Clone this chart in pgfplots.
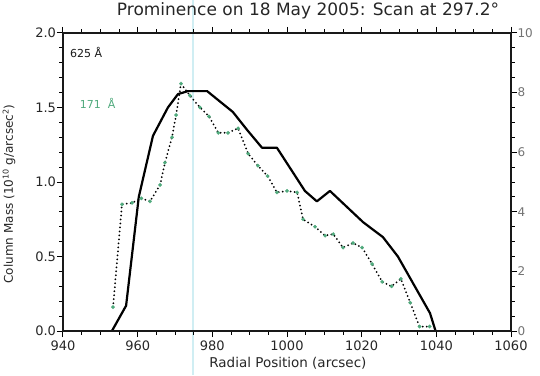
\documentclass[border=0pt]{standalone}
\usepackage{fontspec}
\setmainfont{DejaVu Sans}
\usepackage{pgfplots}
\pgfplotsset{compat=1.18}
\definecolor{grn}{RGB}{80,170,125}
\definecolor{art}{RGB}{208,238,243}
\begin{document}
\begin{tikzpicture}
\path[use as bounding box] (-63pt,-44pt) rectangle (477pt,331pt);
\draw[art, line width=2.5pt] (130pt,-44pt) -- (130pt,331pt);
\begin{axis}[
  scale only axis, width=448pt, height=298pt,
  xmin=940, xmax=1060, ymin=0, ymax=2,
  xtick={940,960,...,1060}, minor x tick num=3,
  ytick={0,0.5,...,2}, minor y tick num=4,
  ytick pos=left,
  tick align=outside,
  major tick length=6pt, minor tick length=3.5pt,
  tick style={black, line width=1pt},
  axis line style={line width=1.3pt, black!90},
  /pgf/number format/assume math mode=true,
  ticklabel style={font=\fontsize{13}{13}\selectfont, text=black!85},
  xticklabel style={/pgf/number format/1000 sep={}, yshift=0pt},
  yticklabel style={/pgf/number format/fixed, /pgf/number format/fixed zerofill, /pgf/number format/precision=1, xshift=2.5pt},
  title={Prominence on 18 May 2005: Scan at 297.2°},
  title style={font=\fontsize{17}{17}\selectfont, text=black!85, at={(axis description cs:0.547,1)}, anchor=base, yshift=11pt},
  xlabel={Radial Position (arcsec)},
  xlabel style={font=\fontsize{13.5}{13.5}\selectfont, text=black!85, at={(axis description cs:0.502,-0.107)}, anchor=center},
  ylabel={Column Mass (10\textsuperscript{10} g/arcsec\textsuperscript{2})},
  ylabel style={font=\fontsize{12}{12}\selectfont, text=black!85, at={(axis description cs:-0.1205,0.46)}, anchor=center},
]
\addplot[black, line width=2.2pt, line join=round] coordinates {
(953.1,0) (956.9,0.17) (960.3,0.90) (964.1,1.31) (968.1,1.50) (970.8,1.59)
(973.5,1.61) (978.6,1.61) (985.5,1.47) (989.3,1.35) (993.3,1.23) (997.3,1.23)
(1004.8,0.94) (1008.0,0.87) (1011.5,0.94) (1020.4,0.73) (1025.7,0.63)
(1029.7,0.50) (1038.3,0.12) (1039.8,0)
};
\node[anchor=west, font=\fontsize{11}{11}\selectfont, text=black!90] at (axis description cs:0.008,0.936) {625 Å};
\node[anchor=west, font=\fontsize{11}{11}\selectfont, text=grn] at (axis description cs:0.030,0.765) {171\hspace{7pt}Å};
\end{axis}
\begin{axis}[
  scale only axis, width=448pt, height=298pt,
  xmin=940, xmax=1060, ymin=0, ymax=10,
  xtick=\empty,
  ytick pos=right, yticklabel pos=right,
  ytick={0,2,...,10}, minor y tick num=3,
  tick align=outside,
  major tick length=6pt, minor tick length=3.5pt,
  axis line style={line width=1.3pt, black!90},
  tick style={black, line width=1pt},
  /pgf/number format/assume math mode=true,
  ticklabel style={font=\fontsize{12}{12}\selectfont, text=black!55},
  yticklabel style={xshift=-3pt},
]
\addplot[black, line width=2pt, line cap=round, dash pattern=on 0pt off 4pt,
  mark=*, mark size=1.8pt, mark options={solid, draw=grn, fill=grn, line width=0.2pt}] coordinates {
(953.4,0.8) (955.8,4.25) (958.5,4.3) (961.0,4.45) (963.3,4.35) (966.0,4.9)
(967.3,5.65) (969.2,6.5) (970.3,7.25) (971.6,8.3) (974.0,7.9) (976.7,7.5)
(979.1,7.2) (981.6,6.65) (984.2,6.65) (986.9,6.8) (989.6,5.95) (992.2,5.55)
(994.8,5.2) (997.3,4.65) (1000.0,4.7) (1002.7,4.65) (1004.3,3.75) (1007.5,3.5)
(1010.2,3.2) (1012.4,3.25) (1015.0,2.8) (1017.7,2.95) (1020.1,2.8) (1022.8,2.25)
(1025.5,1.65) (1028.0,1.5) (1030.5,1.75) (1033.0,0.95) (1035.5,0.15) (1038.2,0.15)
};
\end{axis}
\end{tikzpicture}
\end{document}
